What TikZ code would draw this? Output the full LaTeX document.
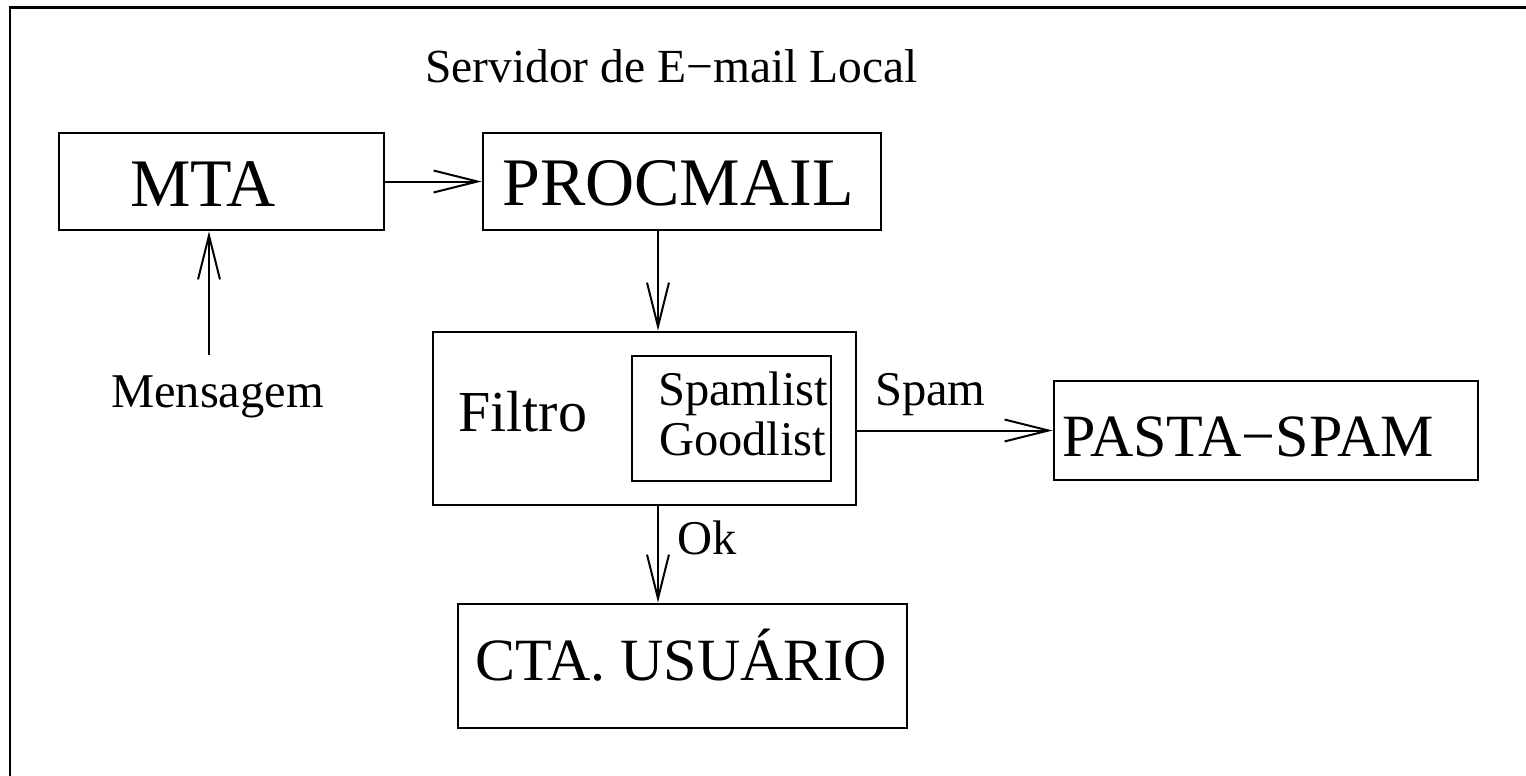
\documentclass[tikz,border=0pt]{standalone}
\usepackage{fontspec}
\setmainfont{Liberation Serif}
\usetikzlibrary{arrows.meta}
\tikzset{
  box/.style={draw, line width=2.6pt, inner sep=0pt},
  arr/.style={line width=2pt, -{Straight Barb[length=44pt,width=22pt,line width=2pt]}},
  big/.style={inner sep=0pt, anchor=base west, font=\fontsize{68}{68}\selectfont},
  mid/.style={inner sep=0pt, anchor=base west, font=\fontsize{60}{60}\selectfont},
  filt/.style={inner sep=0pt, anchor=base west, font=\fontsize{58}{58}\selectfont},
  small/.style={inner sep=0pt, anchor=base west, font=\fontsize{48.5}{48.5}\selectfont},
  ttl/.style={inner sep=0pt, anchor=base west, font=\fontsize{47.5}{47.5}\selectfont},
}
\begin{document}
\begin{tikzpicture}[x=1pt,y=-1pt]
\useasboundingbox (0,0) rectangle (1526,776);
\fill[white] (0,0) rectangle (1526,776);
% outer frame (right and bottom edges fall outside the picture)
\draw[line width=2.8pt] (10,800) -- (10,7.5) -- (1560,7.5);

% boxes
\node[box, minimum width=325pt, minimum height=97pt] (mta) at (221.5,181.5) {};
\node[box, minimum width=398pt, minimum height=97pt] (procmail) at (682,181.5) {};
\node[box, minimum width=423pt, minimum height=173pt] (filtro) at (644.5,418.5) {};
\node[box, minimum width=199pt, minimum height=125pt] (lists) at (731.5,418.5) {};
\node[box, minimum width=424pt, minimum height=99pt] (pasta) at (1266,430.5) {};
\node[box, minimum width=449pt, minimum height=124pt] (cta) at (682.5,666) {};

% texts
\node[ttl] (title) at (425,82) {Servidor de E−mail Local};
\node[big] (mtat) at (130,206) {MTA};
\node[big] (procmailt) at (502,205) {PROCMAIL};
\node[filt] (filtrot) at (458,431) {Filtro};
\node[small] (spamlist) at (658,405) {Spamlist};
\node[small] (goodlist) at (659,455) {Goodlist};
\node[small] (msg) at (111,407) {Mensagem};
\node[small] (spamlbl) at (875,405) {Spam};
\node[small] (oklbl) at (677,554) {Ok};
\node[mid] (pastat) at (1062,456) {PASTA−SPAM};
\node[mid] (ctat) at (475,680) {CTA. USUÁRIO};

% connectors
\coordinate (vx) at (658,0);
\coordinate (msgtop) at (209,355);
\draw[arr] (mta.east) -- (procmail.west);
\draw[arr] (procmail.south -| vx) -- (filtro.north -| vx);
\draw[arr] (filtro.south -| vx) -- (cta.north -| vx);
\draw[arr] (filtro.east |- pasta.west) -- (pasta.west);
\draw[arr] (msgtop) -- (msgtop |- mta.south);
\end{tikzpicture}
\end{document}
